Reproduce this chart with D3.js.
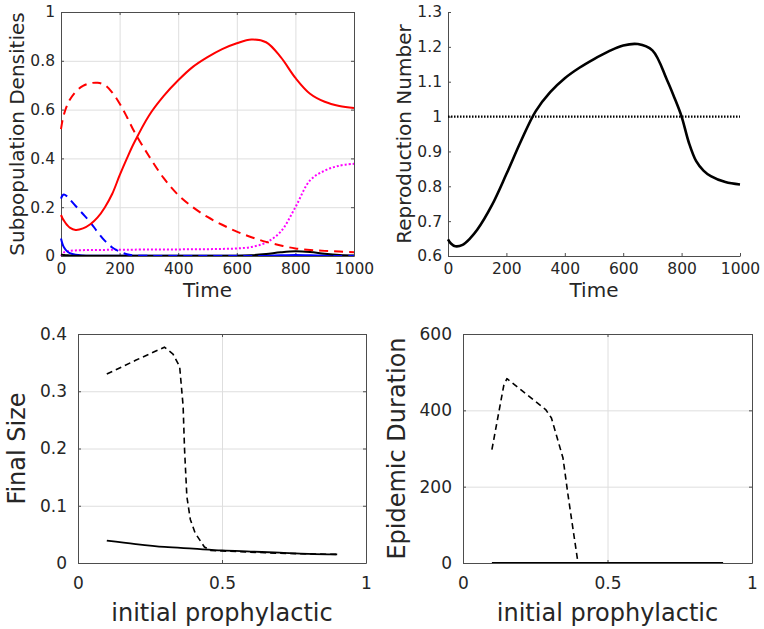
<!DOCTYPE html>
<html>
<head>
<meta charset="utf-8">
<script src="https://cdn.jsdelivr.net/npm/d3@7"></script>
<style>
body{margin:0;background:#fff;}
svg{display:block;font-family:"DejaVu Sans",sans-serif;}
</style>
</head>
<body>
<svg id="c" width="764" height="629"></svg>
<script>
// ---------- DATA ----------
const time = [0,5,10,20,30,50,75,100,125,150,175,200,225,250,300,350,400,450,500,550,600,650,700,750,800,850,900,950,1000];
const redSolid   = [0.168,0.155,0.145,0.128,0.116,0.107,0.113,0.130,0.158,0.200,0.255,0.330,0.400,0.465,0.575,0.655,0.720,0.775,0.815,0.848,0.872,0.887,0.876,0.815,0.730,0.665,0.632,0.615,0.607];
const redDashed  = [0.520,0.555,0.580,0.615,0.640,0.673,0.697,0.708,0.710,0.700,0.670,0.625,0.570,0.510,0.410,0.320,0.250,0.200,0.160,0.128,0.100,0.077,0.058,0.043,0.031,0.025,0.021,0.018,0.015];
const blueDashed = [0.235,0.248,0.252,0.245,0.232,0.205,0.172,0.138,0.098,0.062,0.035,0.018,0.007,0.002,0.0005,0,0,0,0,0,0,0,0,0,0,0,0,0,0];
const blueSolid  = [0.072,0.050,0.036,0.020,0.012,0.005,0.002,0.001,0.001,0.001,0.001,0.001,0.001,0.001,0.001,0.001,0.001,0.001,0.001,0.001,0.001,0.001,0.002,0.003,0.004,0.003,0.002,0.001,0.001];
const blackSolid = [0.005,0.005,0.004,0.003,0.002,0.001,0.001,0.001,0.001,0.001,0.001,0.001,0.001,0.001,0.001,0.001,0.001,0.001,0.001,0.001,0.001,0.003,0.008,0.015,0.019,0.016,0.009,0.004,0.002];
const magenta    = [0.000,0.010,0.015,0.019,0.021,0.023,0.024,0.025,0.025,0.025,0.026,0.026,0.026,0.026,0.027,0.027,0.027,0.028,0.028,0.029,0.031,0.037,0.055,0.100,0.200,0.310,0.350,0.370,0.378];

const rTime = [0,10,25,50,75,100,150,200,250,300,350,400,450,500,550,600,650,700,750,775,800,825,850,875,900,950,1000];
const rNum  = [0.648,0.636,0.628,0.632,0.650,0.675,0.745,0.835,0.930,1.015,1.070,1.110,1.140,1.165,1.187,1.204,1.208,1.190,1.105,1.055,1.000,0.925,0.872,0.845,0.829,0.812,0.805];
const rThreshold = 1;

const fsDashP = [0.1,0.2,0.3,0.33,0.353,0.365,0.37,0.378,0.39,0.407,0.439,0.46,0.5,0.7,0.9];
const fsDashV = [0.330,0.354,0.377,0.365,0.343,0.274,0.198,0.116,0.076,0.052,0.028,0.022,0.021,0.017,0.015];
const fsSolidP = [0.1,0.2,0.3,0.4,0.5,0.6,0.7,0.8,0.9];
const fsSolidV = [0.039,0.033,0.028,0.025,0.022,0.020,0.018,0.016,0.015];

const edDashP = [0.1,0.141,0.152,0.286,0.306,0.346,0.364,0.381,0.398];
const edDashV = [297,465,483,402,380,275,175,87,0];
const edSolidP = [0.1,0.3,0.5,0.7,0.9];
const edSolidV = [0,0,0,0,0];

const ticksTime = [0,200,400,600,800,1000];
const ticksDens = [0,0.2,0.4,0.6,0.8,1];
const ticksR = [0.6,0.7,0.8,0.9,1,1.1,1.2,1.3];
const ticksP = [0,0.5,1];
const ticksFS = [0,0.1,0.2,0.3,0.4];
const ticksED = [0,200,400,600];

// ---------- DRAW ----------
const svg = d3.select("#c");
const AX = "#4d4d4d", TXT = "#262626", GRID = "#dedede";

function panel(o){
  const g = svg.append("g").attr("transform",`translate(${o.x0},${o.y0})`);
  const w = o.x1-o.x0, h = o.y1-o.y0;
  const x = d3.scaleLinear().domain(o.xd).range([0,w]);
  const y = d3.scaleLinear().domain(o.yd).range([h,0]);
  const fmt = d => String(+d.toFixed(2));
  if(o.grid){
    g.append("g").attr("transform",`translate(0,${h})`)
      .call(d3.axisBottom(x).tickValues(o.xt.filter(v=>v!==o.xd[0]&&v!==o.xd[1])).tickSize(-h).tickFormat(""))
      .call(s=>{s.select(".domain").remove();s.selectAll("line").attr("stroke",GRID);});
    g.append("g")
      .call(d3.axisLeft(y).tickValues(o.yt.filter(v=>v!==o.yd[0]&&v!==o.yd[1])).tickSize(-w).tickFormat(""))
      .call(s=>{s.select(".domain").remove();s.selectAll("line").attr("stroke",GRID);});
  }
  const xa = g.append("g").attr("transform",`translate(0,${h})`)
    .call(d3.axisBottom(x).tickValues(o.xt).tickSizeInner(-3).tickSizeOuter(0).tickPadding(o.xpad).tickFormat(fmt));
  const ya = g.append("g")
    .call(d3.axisLeft(y).tickValues(o.yt).tickSizeInner(-3).tickSizeOuter(0).tickPadding(o.ypad).tickFormat(fmt));
  [xa,ya].forEach(a=>{
    a.select(".domain").attr("stroke",AX);
    a.selectAll("line").attr("stroke",AX);
    a.selectAll("text").attr("fill",TXT).style("font-size",o.tfs+"px").style("font-family","DejaVu Sans");
  });
  if(o.box){
    g.append("g").call(d3.axisTop(x).tickValues(o.xt).tickSizeInner(-3).tickSizeOuter(0).tickFormat(""))
      .call(s=>{s.select(".domain").attr("stroke",AX);s.selectAll("line").attr("stroke",AX);});
    g.append("g").attr("transform",`translate(${w},0)`)
      .call(d3.axisRight(y).tickValues(o.yt).tickSizeInner(-3).tickSizeOuter(0).tickFormat(""))
      .call(s=>{s.select(".domain").attr("stroke",AX);s.selectAll("line").attr("stroke",AX);});
  }
  const clip = "clip"+Math.round(o.x0)+"_"+Math.round(o.y0);
  g.append("clipPath").attr("id",clip).append("rect").attr("x",-2).attr("y",-2).attr("width",w+4).attr("height",h+2);
  const lg = g.append("g").attr("clip-path",`url(#${clip})`);
  o.series.forEach(s=>{
    const pts = s.xs.map((v,i)=>[v,s.ys[i]]);
    const line = d3.line().x(d=>x(d[0])).y(d=>y(d[1])).curve(s.curve||d3.curveLinear);
    lg.append("path").attr("d",line(pts)).attr("fill","none")
      .attr("stroke",s.color).attr("stroke-width",s.w)
      .attr("stroke-dasharray",s.dash||null).attr("stroke-linejoin","round");
  });
  g.append("text").attr("x",w/2).attr("y",o.xlabY-o.y0).attr("text-anchor","middle")
    .attr("fill",TXT).style("font-size",o.lfs+"px").text(o.xlab);
  g.append("text").attr("transform",`translate(${o.ylabX-o.x0},${h/2}) rotate(-90)`).attr("text-anchor","middle")
    .attr("fill",TXT).style("font-size",o.lfs+"px").text(o.ylab);
}

const smooth = d3.curveCatmullRom.alpha(0.5);

panel({x0:61,x1:354,y0:12,y1:256,xd:[0,1000],yd:[0,1],xt:ticksTime,yt:ticksDens,
  grid:true,box:true,xpad:7,ypad:6,tfs:15.5,lfs:20,
  xlab:"Time",xlabY:297,ylab:"Subpopulation Densities",ylabX:24,
  series:[
    {xs:time,ys:magenta,color:"#ff00ff",w:2,dash:"2,2",curve:smooth},
    {xs:time,ys:blueSolid,color:"#0000ff",w:2,curve:smooth},
    {xs:time,ys:blackSolid,color:"#000000",w:2,curve:smooth},
    {xs:time,ys:blueDashed,color:"#0000ff",w:2,dash:"9,6",curve:smooth},
    {xs:time,ys:redDashed,color:"#ff0000",w:2,dash:"9,6",curve:smooth},
    {xs:time,ys:redSolid,color:"#ff0000",w:2,curve:smooth}
  ]});

panel({x0:448,x1:740,y0:12,y1:256,xd:[0,1000],yd:[0.6,1.3],xt:ticksTime,yt:ticksR,
  grid:false,box:false,xpad:7,ypad:6,tfs:15.5,lfs:20,
  xlab:"Time",xlabY:297,ylab:"Reproduction Number",ylabX:411,
  series:[
    {xs:[0,1000],ys:[rThreshold,rThreshold],color:"#000",w:2.2,dash:"1.5,1.5"},
    {xs:rTime,ys:rNum,color:"#000",w:2.6,curve:smooth}
  ]});

panel({x0:78,x1:366,y0:334,y1:563,xd:[0,1],yd:[0,0.4],xt:ticksP,yt:ticksFS,
  grid:true,box:true,xpad:14,ypad:11,tfs:17,lfs:24,
  xlab:"initial prophylactic",xlabY:621,ylab:"Final Size",ylabX:25,
  series:[
    {xs:fsDashP,ys:fsDashV,color:"#000",w:1.6,dash:"6,4"},
    {xs:fsSolidP,ys:fsSolidV,color:"#000",w:1.8,curve:smooth}
  ]});

panel({x0:463,x1:752,y0:334,y1:563,xd:[0,1],yd:[0,600],xt:ticksP,yt:ticksED,
  grid:true,box:true,xpad:14,ypad:11,tfs:17,lfs:24,
  xlab:"initial prophylactic",xlabY:621,ylab:"Epidemic Duration",ylabX:405,
  series:[
    {xs:edDashP,ys:edDashV,color:"#000",w:1.6,dash:"6,4"},
    {xs:edSolidP,ys:edSolidV,color:"#000",w:2}
  ]});
</script>
</body>
</html>
